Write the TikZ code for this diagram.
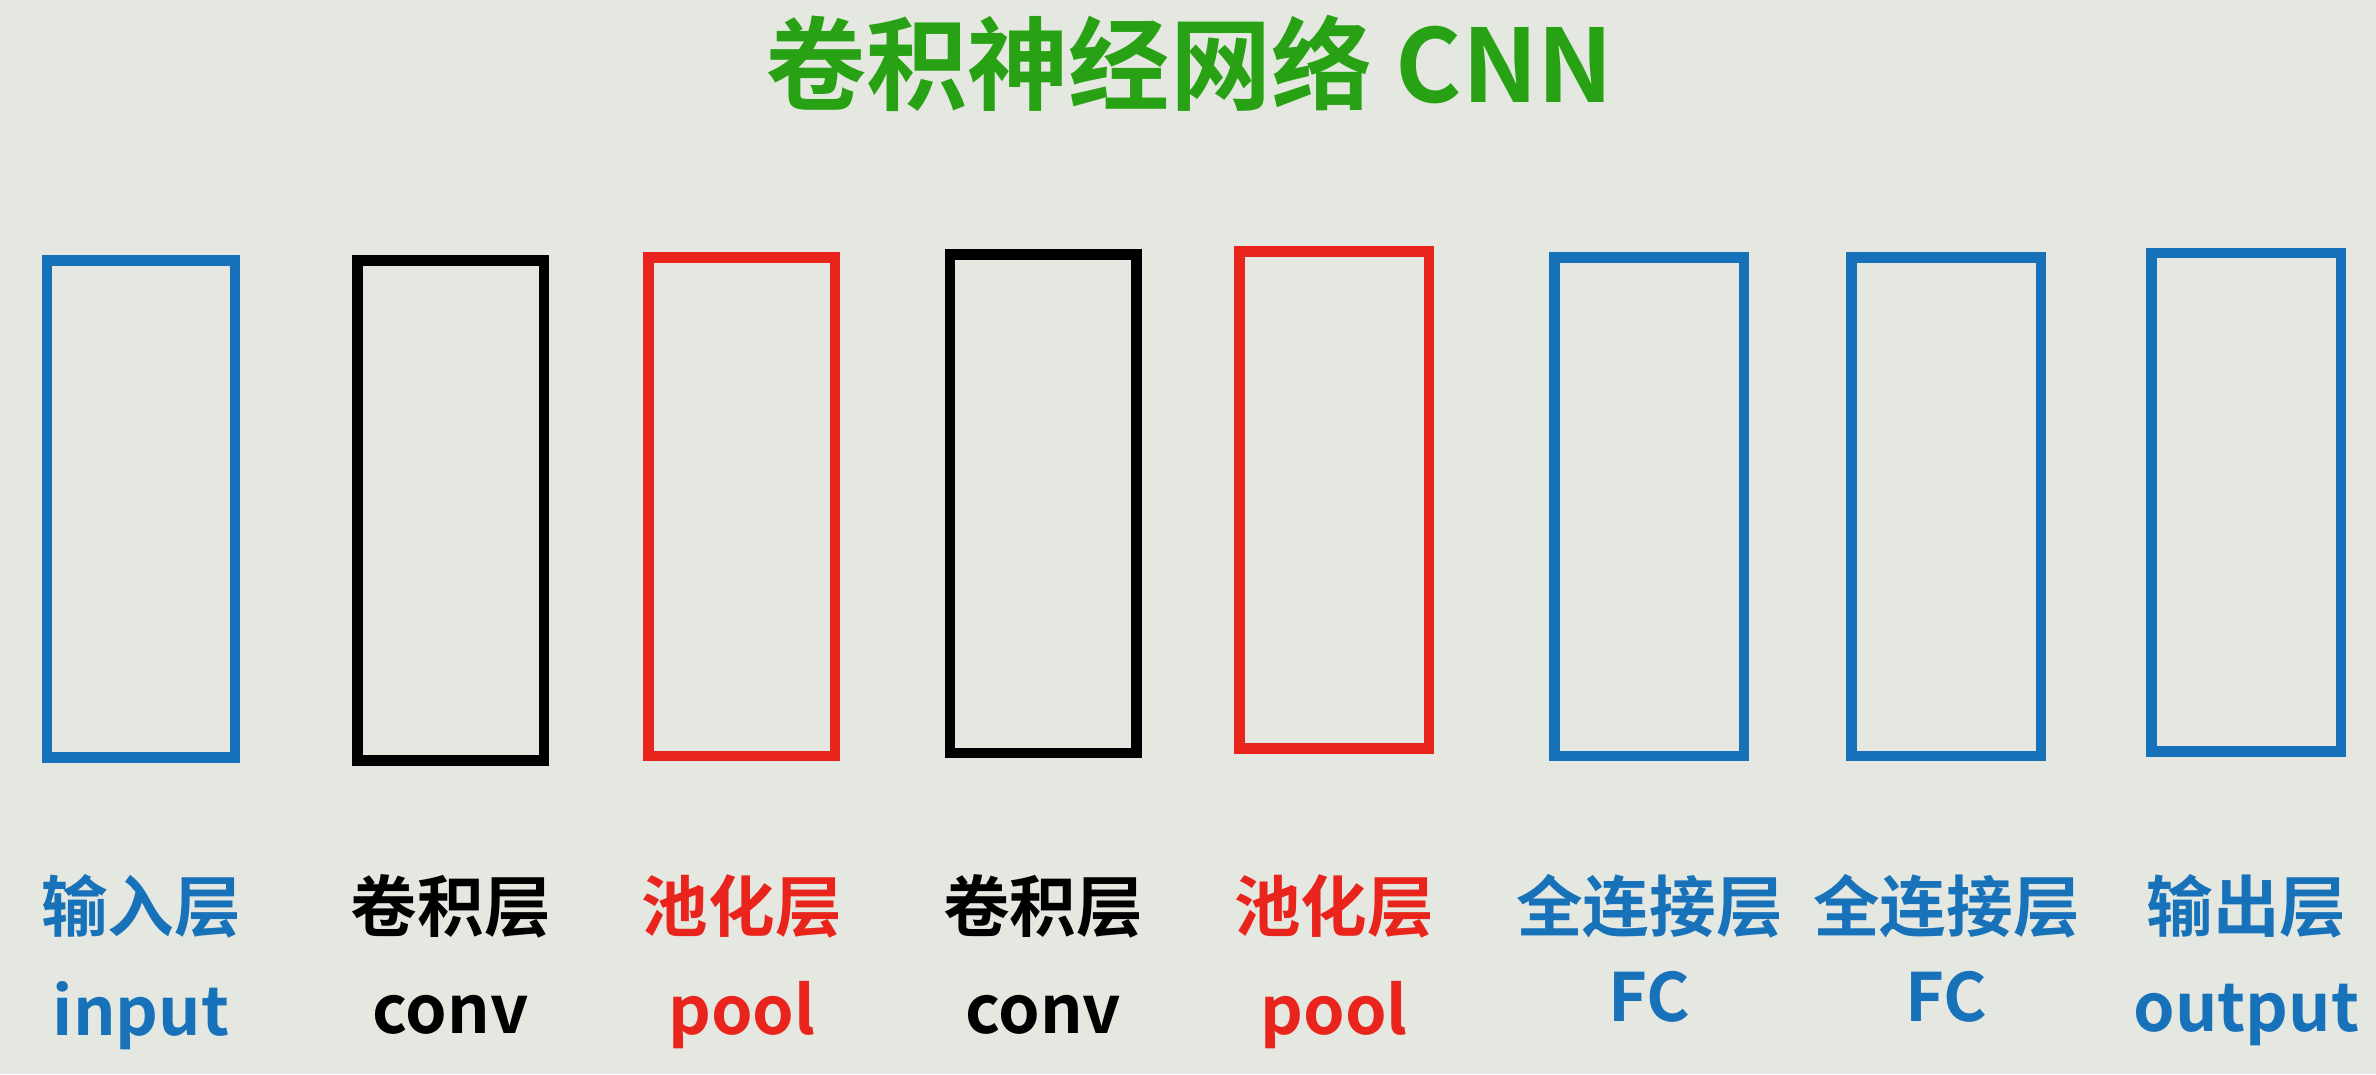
\documentclass[tikz,border=0pt]{standalone}
\usepackage{fontspec}
\newfontfamily\cjk{Noto Sans CJK SC}[BoldFont={* Bold}]
\definecolor{bg}{RGB}{228,232,224}
\definecolor{cb}{RGB}{24,114,186}
\definecolor{cr}{RGB}{232,36,28}
\definecolor{cg}{RGB}{40,162,20}
\begin{document}
\begin{tikzpicture}[x=0.01cm,y=-0.01cm,
  layer/.style={draw,line width=2pt},
  lab/.style={font=\cjk\bfseries\fontsize{12.5}{14}\selectfont,anchor=center},
  sub/.style={font=\cjk\bfseries\fontsize{12.5}{14}\selectfont,anchor=center}]
\fill[bg] (0,0) rectangle (1568,709);
\useasboundingbox (0,0) rectangle (1568,709);
\node[font=\cjk\bfseries\fontsize{19}{22}\selectfont,text=cg] (title) at (785,42) {卷积神经网络 CNN};
\foreach \i/\a/\b/\c/\d/\col/\ta/\tb/\ty in {
 1/31/155/172/500/cb/输入层/input/670,
 2/236/359/172/502/black/卷积层/conv/670,
 3/428/551/170/499/cr/池化层/pool/670,
 4/627/750/168/497/black/卷积层/conv/670,
 5/818/943/166/494/cr/池化层/pool/670,
 6/1026/1151/170/499/cb/全连接层/FC/658,
 7/1222/1347/170/499/cb/全连接层/FC/658,
 8/1420/1545/167/496/cb/输出层/output/670}{
  \draw[layer,draw=\col] (\a,\c) rectangle (\b,\d);
  \node[layer,draw=none,inner sep=0,minimum size=0] (b\i) at ({(\a+\b)/2},{(\c+\d)/2}) {};
  \node[lab,text=\col] (l\i) at ({(\a+\b)/2},598) {\ta};
  \node[sub,text=\col] (s\i) at ({(\a+\b)/2},\ty) {\tb};
}
\end{tikzpicture}
\end{document}
